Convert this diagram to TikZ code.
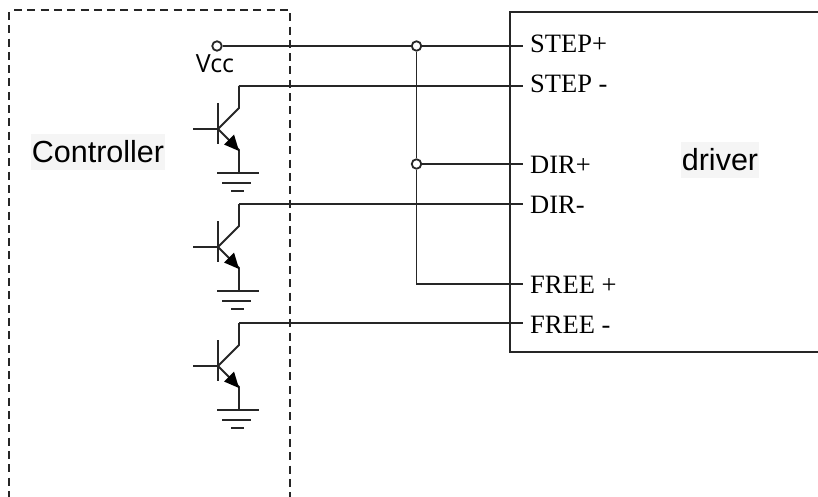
\documentclass[tikz,border=0pt]{standalone}
\usepackage{fontspec}
\setmainfont{Liberation Serif}
\setsansfont{Liberation Sans}
\newfontfamily\vccfont{Open Sans}
\usetikzlibrary{calc}
\tikzset{
	wire/.style={line width=1.8pt, color=black!85},
	terminal/.style={circle, draw=black!85, fill=white, line width=1.8pt, minimum size=9.5pt, inner sep=0pt},
	pinlabel/.style={anchor=base west, inner sep=0pt, font=\fontsize{26.5}{30}\selectfont},
	blocklabel/.style={inner sep=1pt, minimum height=36pt, fill=black!4, font=\sffamily\fontsize{30.5}{34}\selectfont},
}
% transistor with its ground: name, y of the collector line
\def\bjtground(#1,#2){
	\begin{scope}[shift={(0,#2)}]
		\coordinate (#1c) at (239,0);
		\coordinate (#1b) at (218,43);
		\draw[wire] (193,43) -- (#1b);
		\draw[wire] (218,17) -- (218,58);
		\draw[wire] (#1c) -- (239,22) -- (#1b);
		\draw[wire] (#1b) -- (239,64) -- (239,87);
		\draw[fill=black, draw=none] (239,65) -- (224,58.5) -- (234,48.5) -- cycle;
		\draw[wire] (217,87) -- (259,87);
		\draw[wire] (222,97) -- (251,97);
		\draw[wire] (231,105) -- (244,105);
	\end{scope}
}

\begin{document}
\begin{tikzpicture}[x=1pt, y=-1pt]
	\useasboundingbox (0,0) rectangle (818,497);
	%%%%% controller %%%%%
	\draw[wire, dash pattern=on 8pt off 5.3pt] (14,10) -- (290,10) -- (290,497);
	\draw[wire, dash pattern=on 8pt off 5.3pt] (9,12) -- (9,497);
	\node[blocklabel] (controller) at (98,152) {Controller};

	\bjtground(qa,86)
	\bjtground(qb,204)
	\bjtground(qc,323)

	%%%%% driver %%%%%
	\draw[wire] (818,12) -- (510,12) -- (510,352) -- (818,352);
	\node[blocklabel] (driver) at (720,160) {driver};

	\node[pinlabel] (stepp) at (530,53) {STEP+};
	\node[pinlabel] (stepm) at (530,93) {STEP -};
	\node[pinlabel] (dirp) at (530,173) {DIR+};
	\node[pinlabel] (dirm) at (530,213) {DIR-};
	\node[pinlabel] (freep) at (530,293) {FREE +};
	\node[pinlabel] (freem) at (530,333) {FREE -};

	\coordinate (pina) at (523,46);
	\coordinate (pinb) at (523,86);
	\coordinate (pinc) at (523,164);
	\coordinate (pind) at (523,204);
	\coordinate (pine) at (523,284);
	\coordinate (pinf) at (523,323);

	%%%%% wires %%%%%
	\node[terminal] (vcc) at (217,46) {};
	\node[terminal] (juna) at (416.5,46) {};
	\node[terminal] (junb) at (416.5,164) {};
	\coordinate (bend) at (416.5,284);
	\draw[wire] (vcc) -- (juna);
	\draw[wire] (juna) -- (pina);
	\draw[wire] (juna) -- (junb);
	\draw[wire] (junb) -- (bend) -- (pine);
	\draw[wire] (junb) -- (pinc);
	\draw[wire] (qac) -- (pinb);
	\draw[wire] (qbc) -- (pind);
	\draw[wire] (qcc) -- (pinf);

	\node[inner sep=0pt, font=\vccfont\fontsize{25}{28}\selectfont] (vcclabel) at (215,64) {Vcc};
\end{tikzpicture}
\end{document}
